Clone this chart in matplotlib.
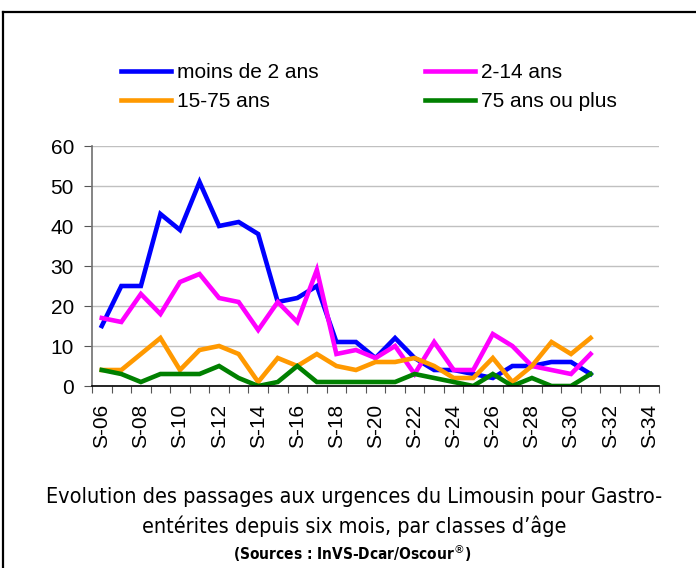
import matplotlib
matplotlib.use("Agg")
import matplotlib.pyplot as plt
from matplotlib.lines import Line2D
import numpy as np

weeks = ["S-%02d" % w for w in range(6, 35)]
moins2 = [15, 25, 25, 43, 39, 51, 40, 41, 38, 21, 22, 25, 11, 11, 7, 12, 7, 4, 4, 3, 2, 5, 5, 6, 6, 3]
a2_14 = [17, 16, 23, 18, 26, 28, 22, 21, 14, 21, 16, 29, 8, 9, 7, 10, 3, 11, 4, 4, 13, 10, 5, 4, 3, 8]
a15_75 = [4, 4, 8, 12, 4, 9, 10, 8, 1, 7, 5, 8, 5, 4, 6, 6, 7, 5, 2, 2, 7, 1, 5, 11, 8, 12]
a75p = [4, 3, 1, 3, 3, 3, 5, 2, 0, 1, 5, 1, 1, 1, 1, 1, 3, 2, 1, 0, 3, 0, 2, 0, 0, 3]
labels = ["moins de 2 ans", "2-14 ans", "15-75 ans", "75 ans ou plus"]
colors = ["#0000FF", "#FF00FF", "#FF9900", "#008000"]

plt.rcParams['font.family'] = ['Liberation Sans', 'DejaVu Sans']

fig = plt.figure(figsize=(6.96, 5.68), dpi=100)
ax = fig.add_axes([92/696, 1-386/568, (659-92)/696, (386-146)/568])

series = [moins2, a2_14, a15_75, a75p]
handles = []
for vals, lab, col in zip(series, labels, colors):
    x = np.arange(len(vals))
    h, = ax.plot(x, vals, color=col, lw=3.3, label=lab, solid_joinstyle='miter')
    handles.append(h)

n = len(weeks)
ax.set_xlim(-0.5, n - 0.5)
ax.set_ylim(0, 60)
ax.set_yticks(range(0, 61, 10))
ax.yaxis.grid(True, color='#c0c0c0', lw=1)
ax.set_axisbelow(True)
ax.set_xticks(np.arange(-0.5, n, 1.0))
ax.set_xticklabels([])
ax.set_xticks(np.arange(0, n, 2), minor=True)
ax.set_xticklabels(weeks[::2], minor=True, rotation=90, fontsize=15)
ax.tick_params(axis='x', which='minor', length=0, pad=13)
ax.tick_params(axis='x', which='major', length=5, direction='out', color='#555555')
ax.tick_params(axis='y', length=6, direction='out', color='#555555', labelsize=15, pad=7)
for s in ['top', 'right']:
    ax.spines[s].set_visible(False)
ax.spines['left'].set_color('#707070')
ax.spines['left'].set_linewidth(1.2)
ax.spines['bottom'].set_color('black')
ax.spines['bottom'].set_linewidth(1.2)

order = [handles[0], handles[2], handles[1], handles[3]]
fig.legend(order, [h.get_label() for h in order], ncol=2, frameon=False,
           loc='upper left', bbox_to_anchor=(121/696, 1-63/568),
           fontsize=15, handlelength=2.4, handletextpad=0.29, borderpad=0,
           columnspacing=5.1, labelspacing=0.5, borderaxespad=0)

cap_kw = dict(ha='center', va='center', family=['DejaVu Sans'], stretch='condensed')
fig.text(354/696, 1-497/568, "Evolution des passages aux urgences du Limousin pour Gastro-",
         fontsize=15.5, **cap_kw)
fig.text(354/696, 1-526/568, "entérites depuis six mois, par classes d’âge",
         fontsize=15.5, **cap_kw)
fig.text(352/696, 1-553/568, "(Sources : InVS-Dcar/Oscour$^{®}$)",
         fontsize=11.1, weight='bold', **cap_kw)

fig.add_artist(Line2D([3/696, 1.0], [1-12/568, 1-12/568], color='black', lw=1.6, transform=fig.transFigure))
fig.add_artist(Line2D([3/696, 3/696], [0, 1-12/568], color='black', lw=1.6, transform=fig.transFigure))

fig.savefig("out.png", dpi=100)
